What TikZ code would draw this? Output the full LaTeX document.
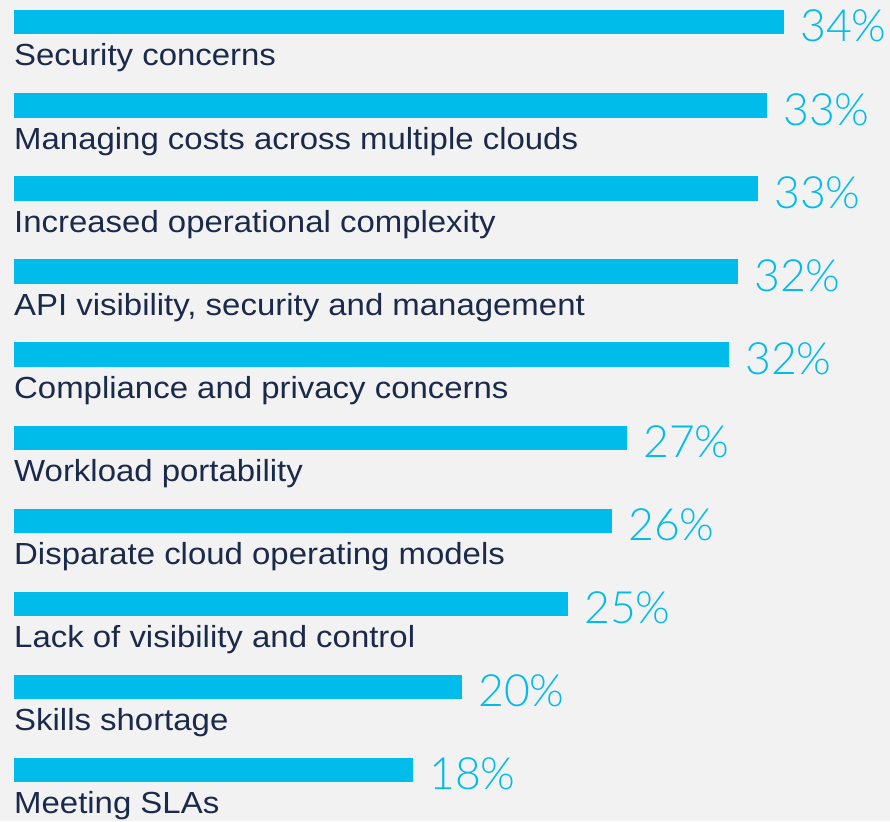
\documentclass[tikz,border=0pt]{standalone}
\usepackage{fontspec}
\setmainfont{Liberation Sans}
\newfontfamily\lblfont[FakeStretch=1.08]{Liberation Sans}
\newfontfamily\pctfont{Lato Light}
\definecolor{bgc}{HTML}{F2F2F2}
\definecolor{barc}{HTML}{00BCEB}
\definecolor{txtc}{HTML}{1B2A4A}
\tikzset{
  barbox/.style={fill=barc},
  lbl/.style={anchor=base west, inner sep=0pt, text=txtc, font=\lblfont\fontsize{30.5}{34}\selectfont},
  pct/.style={anchor=base west, inner sep=0pt, text=barc, font=\pctfont\fontsize{44.5}{48}\selectfont}
}
\begin{document}
\begin{tikzpicture}[x=1pt,y=-1pt]
\fill[bgc] (0,0) rectangle (890,821);
\useasboundingbox (0,0) rectangle (890,821);
\foreach \i/\e/\p/\l in {
  0/784/34/{Security concerns},
  1/767/33/{Managing costs across multiple clouds},
  2/758/33/{Increased operational complexity},
  3/738/32/{API visibility, security and management},
  4/729/32/{Compliance and privacy concerns},
  5/627/27/{Workload portability},
  6/612/26/{Disparate cloud operating models},
  7/568/25/{Lack of visibility and control},
  8/462/20/{Skills shortage},
  9/413/18/{Meeting SLAs}}{
  \pgfmathsetmacro{\t}{10+\i*83.1}
  \fill[barbox] (14,\t) rectangle (\e,\t+24.5);
  \node[lbl] (label\i) at (14,\t+56) {\l};
  \node[pct] (pct\i) at (\e+16,\t+32) {\p\%};
}
\end{tikzpicture}
\end{document}
